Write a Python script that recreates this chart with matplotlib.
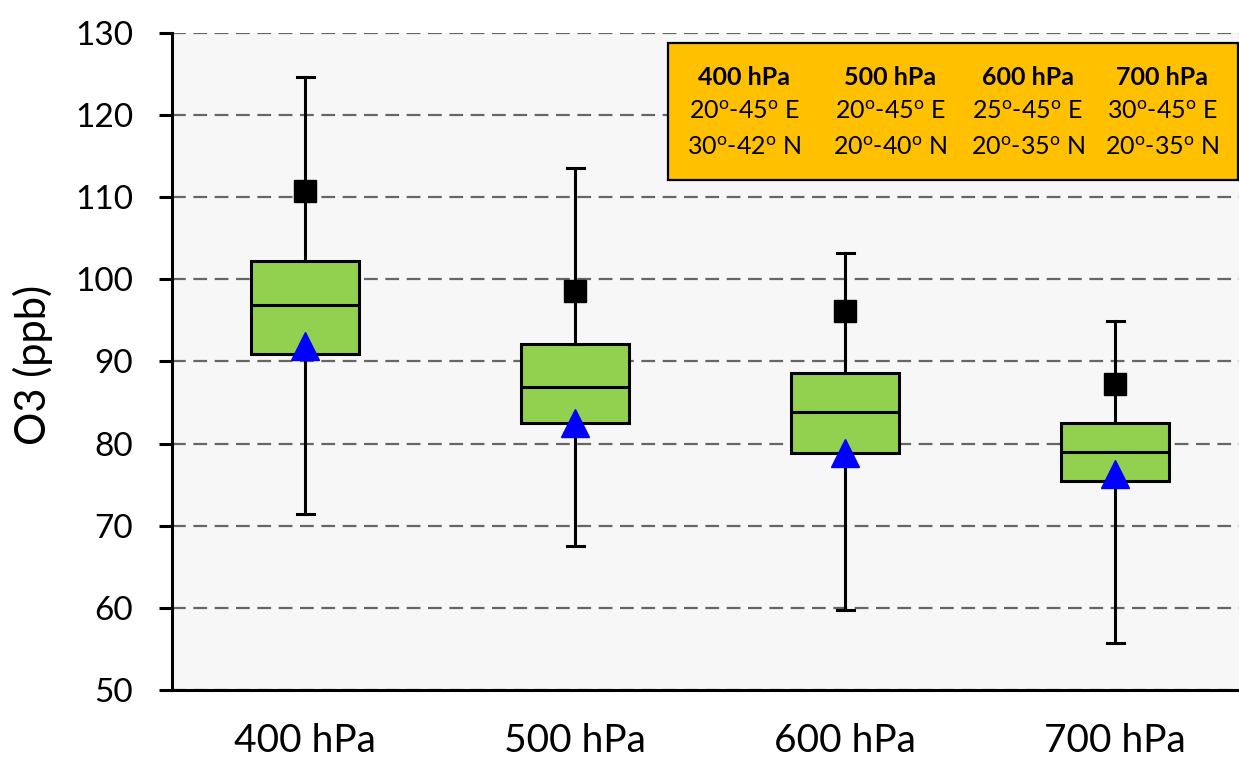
import numpy as np
import matplotlib.pyplot as plt
from matplotlib.patches import Rectangle

plt.rcParams['font.family'] = ['Lato', 'DejaVu Sans']
plt.rcParams['mathtext.fontset'] = 'custom'
plt.rcParams['mathtext.rm'] = 'Lato'

# values (ppb)
levels = ['400 hPa', '500 hPa', '600 hPa', '700 hPa']
whisker_low = [71.4, 67.5, 59.8, 55.7]
q1 = [90.9, 82.5, 78.9, 75.4]
median = [96.9, 86.9, 83.9, 79.0]
q3 = [102.2, 92.1, 88.6, 82.5]
whisker_high = [124.7, 113.6, 103.2, 94.9]
square_vals = [110.8, 98.6, 96.1, 87.2]
triangle_vals = [91.9, 82.5, 78.9, 76.3]

# region of each level (superscript o as in the original)
deg = r'$^{\mathrm{o}}$'
region_lon = ['20' + deg + '-45' + deg + ' E', '20' + deg + '-45' + deg + ' E',
              '25' + deg + '-45' + deg + ' E', '30' + deg + '-45' + deg + ' E']
region_lat = ['30' + deg + '-42' + deg + ' N', '20' + deg + '-40' + deg + ' N',
              '20' + deg + '-35' + deg + ' N', '20' + deg + '-35' + deg + ' N']

yticks = np.arange(50, 131, 10)

fig = plt.figure(figsize=(12.39, 7.62), dpi=100)
ax = fig.add_axes([172 / 1239, 1 - 690 / 762, 1067 / 1239, 657 / 762])
ax.set_facecolor('#F7F7F7')

x = np.arange(len(levels))
stats = []
for i in range(len(levels)):
    stats.append(dict(med=median[i], q1=q1[i], q3=q3[i],
                      whislo=whisker_low[i], whishi=whisker_high[i], fliers=[]))

ax.bxp(stats, positions=x, widths=0.4, capwidths=0.063, patch_artist=True,
       showfliers=False, zorder=3,
       boxprops=dict(facecolor='#92D050', edgecolor='black', linewidth=2.2),
       medianprops=dict(color='black', linewidth=2.2),
       whiskerprops=dict(color='black', linewidth=2.2),
       capprops=dict(color='black', linewidth=2.2))

ax.plot(x, square_vals, linestyle='none', marker='s', color='black',
        markersize=15.6, zorder=4)
ax.plot(x, triangle_vals, linestyle='none', marker='^', color='#0000FF',
        markersize=20.5, zorder=5)

ax.set_xlim(-0.4926, 3.459)
ax.set_ylim(50, 130)
ax.set_yticks(yticks)
ax.set_xticks(x)
ax.set_xticklabels(levels, fontsize=28)
ax.tick_params(axis='x', length=0, pad=24)
ax.tick_params(axis='y', direction='out', length=9.4, width=2.2, labelsize=24, pad=18.5)

ax.yaxis.grid(True, color='#666666', linewidth=1.6, linestyle=(0, (6.2, 3.4)))
ax.set_axisbelow(True)

for side in ['top', 'right']:
    ax.spines[side].set_visible(False)
for side in ['left', 'bottom']:
    ax.spines[side].set_linewidth(2.2)
    ax.spines[side].set_color('black')

ax.set_ylabel('O3 (ppb)', fontsize=30)
ax.yaxis.set_label_coords(-0.1115, 0.495)

# region info box
ax.add_patch(Rectangle((0.465, 0.776), 0.534, 0.209, transform=ax.transAxes,
                       facecolor='#FFC000', edgecolor='black', linewidth=1.6,
                       zorder=6, clip_on=False))
col_x = [0.536, 0.673, 0.802, 0.928]
for i in range(len(levels)):
    ax.text(col_x[i], 0.933, levels[i], transform=ax.transAxes, ha='center',
            va='center', fontsize=18, fontweight='bold', zorder=7)
    ax.text(col_x[i], 0.880, region_lon[i], transform=ax.transAxes, ha='center',
            va='center', fontsize=18, zorder=7)
    ax.text(col_x[i], 0.825, region_lat[i], transform=ax.transAxes, ha='center',
            va='center', fontsize=18, zorder=7)

fig.savefig('out.png', dpi=100)
